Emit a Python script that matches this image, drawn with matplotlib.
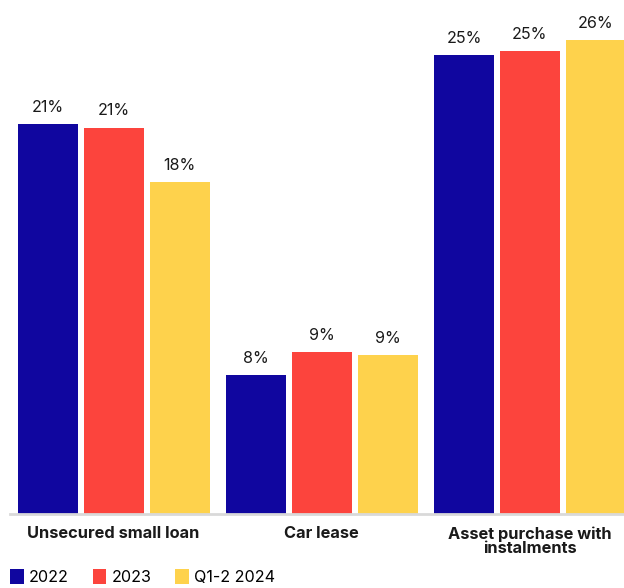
import numpy as np
import matplotlib.pyplot as plt
from matplotlib.patches import Patch

plt.rcParams['font.family'] = ['Inter', 'DejaVu Sans']

categories = ['Unsecured small loan', 'Car lease', 'Asset purchase with\ninstalments']
series = ['2022', '2023', 'Q1-2 2024']
values = {
    '2022': [21.4, 7.6, 25.2],
    '2023': [21.2, 8.9, 25.4],
    'Q1-2 2024': [18.2, 8.7, 26.0],
}
colors = ['#10069f', '#fc443d', '#fed24c']

fig = plt.figure(figsize=(6.24, 5.88), dpi=100)
ax = fig.add_axes([10 / 624, 74 / 588, 614 / 624, 514 / 588])

x = np.arange(len(categories))
width = 0.288
step = 0.317

for i, (name, color) in enumerate(zip(series, colors)):
    pos = x + (i - 1) * step
    bars = ax.bar(pos, values[name], width, color=color, zorder=2)
    for b, v in zip(bars, values[name]):
        ax.text(b.get_x() + b.get_width() / 2, v + 0.5, f'{v:.0f}%',
                ha='center', va='bottom', fontsize=11.6, color='#1a1a1a')

ax.set_xlim(-0.498, 2.452)
ax.set_ylim(0, 28.2)
ax.set_yticks([])
ax.set_xticks(x)
ax.set_xticklabels(categories, fontsize=11.8, fontweight='bold', color='#1a1a1a',
                   linespacing=0.9)
ax.tick_params(axis='x', length=0, pad=9)
for side in ['top', 'right', 'left']:
    ax.spines[side].set_visible(False)
ax.spines['bottom'].set_color('#d9d9d9')
ax.spines['bottom'].set_linewidth(2)

handles = [Patch(facecolor=c, label=s) for s, c in zip(series, colors)]
fig.legend(handles=handles, loc='lower left', bbox_to_anchor=(0.006, -0.006),
           ncol=3, frameon=False, fontsize=11.6, handlelength=0.85, handleheight=1.0,
           handletextpad=0.3, columnspacing=1.5, borderaxespad=0)

fig.savefig('out.png', dpi=100)
